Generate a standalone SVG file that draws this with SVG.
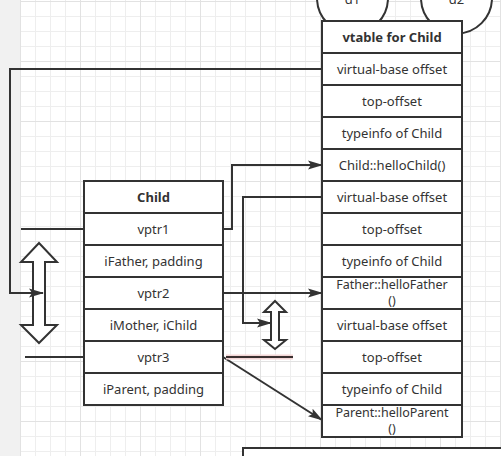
<svg xmlns="http://www.w3.org/2000/svg" width="501" height="456" viewBox="0 0 501 456">
<defs>
<pattern id="grid" patternUnits="userSpaceOnUse" x="20" y="1" width="60" height="60">
<rect width="60" height="60" fill="#ffffff"/>
<path d="M15.5,0V60M30.5,0V60M45.5,0V60M0,15.5H60M0,30.5H60M0,45.5H60" stroke="#eeeeee" stroke-width="1"/>
<path d="M0.5,0V60M0,0.5H60" stroke="#e2e2e2" stroke-width="1"/>
</pattern>
<marker id="arr" viewBox="0 0 15 10" refX="14" refY="5" markerWidth="15" markerHeight="10" orient="auto" markerUnits="userSpaceOnUse">
<path d="M0,0.5L15,5L0,9.5L3,5Z" fill="#333333"/>
</marker>
<style>
.box{fill:#ffffff;stroke:#333333;stroke-width:2}
.ln{fill:none;stroke:#333333;stroke-width:2}
.t{font-family:"Noto Sans","Open Sans","Liberation Sans",sans-serif;font-size:13px;fill:#333333;text-anchor:middle}
.s{font-size:12.5px}
.h{font-weight:bold;font-size:13px}
</style>
</defs>
<rect width="501" height="456" fill="#f1f1f1"/>
<rect x="20" y="0" width="481" height="456" fill="url(#grid)"/>

<g id="circle-d1">
<circle cx="352.5" cy="-2" r="35.5" class="box"/>
<text x="352.5" y="4" class="t">d1</text>
</g>
<g id="circle-d2">
<circle cx="456.5" cy="-2" r="35.5" class="box"/>
<text x="456.5" y="4" class="t">d2</text>
</g>

<g id="vtable">
<rect x="322" y="21" width="140" height="416" class="box"/>
<path d="M322,53H462M322,85H462M322,117H462M322,149H462M322,181H462M322,213H462M322,245H462M322,277H462M322,309H462M322,341H462M322,373H462M322,405H462" class="ln"/>
<text x="392" y="42" class="t h">vtable for Child</text>
<text x="392" y="74" class="t">virtual-base offset</text>
<text x="392" y="106" class="t">top-offset</text>
<text x="392" y="138" class="t">typeinfo of Child</text>
<text x="392" y="170" class="t">Child::helloChild()</text>
<text x="392" y="202" class="t">virtual-base offset</text>
<text x="392" y="234" class="t">top-offset</text>
<text x="392" y="266" class="t">typeinfo of Child</text>
<text x="392" y="289" class="t s">Father::helloFather</text>
<text x="392" y="305" class="t s">()</text>
<text x="392" y="330" class="t">virtual-base offset</text>
<text x="392" y="362" class="t">top-offset</text>
<text x="392" y="394" class="t">typeinfo of Child</text>
<text x="392" y="417" class="t s">Parent::helloParent</text>
<text x="392" y="433" class="t s">()</text>
</g>

<g id="child">
<rect x="84" y="181" width="139" height="224" class="box"/>
<path d="M84,213H223M84,245H223M84,277H223M84,309H223M84,341H223M84,373H223" class="ln"/>
<text x="153.5" y="202" class="t h">Child</text>
<text x="153.5" y="234" class="t">vptr1</text>
<text x="153.5" y="266" class="t">iFather, padding</text>
<text x="153.5" y="298" class="t">vptr2</text>
<text x="153.5" y="330" class="t">iMother, iChild</text>
<text x="153.5" y="362" class="t">vptr3</text>
<text x="153.5" y="394" class="t">iParent, padding</text>
</g>

<g id="double-arrow-left">
<path d="M39,243L57,262H45V325H57L39,343L21,325H33V262H21Z" class="box"/>
</g>
<g id="double-arrow-small">
<path d="M275,301L286,312H279V340H286L275,349L264,340H271V312H264Z" class="box"/>
</g>

<g id="bottom-box">
<rect x="243" y="448" width="270" height="20" class="box"/>
</g>

<g id="connectors">
<path d="M322,69H10V293H43" class="ln" marker-end="url(#arr)"/>
<path d="M21,229H84" class="ln"/>
<path d="M25,357H84" class="ln"/>
<path d="M223,229H232V165H322" class="ln" marker-end="url(#arr)"/>
<path d="M322,197H243V323H271" class="ln" marker-end="url(#arr)"/>
<path d="M223,293H322" class="ln" marker-end="url(#arr)"/>
<path d="M223,357L322,420" class="ln" marker-end="url(#arr)"/>
<path d="M226,357H293" fill="none" stroke="#f3d6d6" stroke-width="5"/>
<path d="M226,357H293" fill="none" stroke="#3a3030" stroke-width="2"/>
</g>
</svg>
